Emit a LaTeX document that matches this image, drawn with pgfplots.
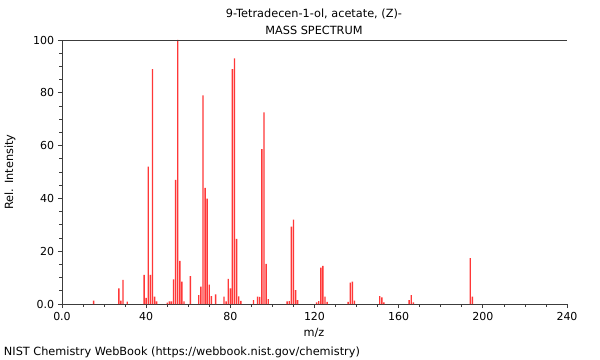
\documentclass[border=0pt]{standalone}
\usepackage{fontspec}
\setmainfont{DejaVu Sans}
\usepackage{pgfplots}
\pgfplotsset{compat=1.18}
\definecolor{specred}{RGB}{255,55,55}
\definecolor{axgray}{RGB}{60,60,60}
\begin{document}
\fontsize{11.3bp}{13bp}\selectfont
\begin{tikzpicture}
\useasboundingbox (-62bp,-56bp) rectangle (538bp,304bp);
\begin{axis}[
  at={(0,0)}, anchor=south west,
  scale only axis, width=505bp, height=264bp,
  xmin=0, xmax=240, ymin=0, ymax=100,
  axis x line*=bottom, axis y line*=left,
  axis line style={-, draw=axgray, line width=0.8bp},
  tick align=outside,
  major tick length=4bp, minor tick length=2.5bp,
  every tick/.style={draw=axgray, line width=0.7bp},
  xtick={0,40,...,240}, xticklabels={0.0,40,80,120,160,200,240},
  ytick={0,20,...,100}, yticklabels={0.0,20,40,60,80,100},
  minor x tick num=3, minor y tick num=3,
  /pgf/number format/assume math mode=true,
  tick label style={font=\fontsize{11bp}{13bp}\selectfont},
  clip=false,
]
\addplot[ybar, bar width=1.4bp, fill=specred, draw=none, mark=none] coordinates {
(15,1.3) (27,5.9) (28,1.3) (29,9.1) (31,0.9)
(39,11) (40,2.3) (41,52) (42,11) (43,89) (44,2.8) (45,1.0)
(50,0.5) (51,1.0) (52,1.0) (53,9.3) (54,47) (55,100) (56,16.3) (57,8.5) (58,1.0)
(61,10.6) (65,3.4) (66,6.6) (67,79) (68,44) (69,39.9) (70,7.3) (71,3.0) (73,3.6)
(77,2.8) (78,1.0) (79,9.5) (80,5.9) (81,89) (82,93) (83,24.7) (84,2.9) (85,1.2)
(91,1.5) (93,2.8) (94,2.7) (95,58.7) (96,72.6) (97,15.2) (98,1.8)
(107,1.0) (108,1.1) (109,29.3) (110,32) (111,5.3) (112,1.5)
(121,0.6) (122,1.1) (123,13.8) (124,14.4) (125,2.8) (126,0.8)
(136,0.8) (137,8.1) (138,8.5) (139,1.3)
(151,3.0) (152,2.5) (153,0.6)
(165,1.5) (166,3.4) (167,0.6)
(194,17.4) (195,2.8)
};
\draw[axgray, line width=0.8bp] (rel axis cs:0,1) -- (rel axis cs:1,1);
\end{axis}
\node at (252bp,290bp) {9-Tetradecen-1-ol, acetate, (Z)-};
\node at (252bp,274bp) {MASS SPECTRUM};
\node[rotate=90] at (-52bp,132bp) {Rel. Intensity};
\node at (252bp,-29bp) {m/z};
\node[anchor=west] at (-62bp,-48bp) {NIST Chemistry WebBook (https://webbook.nist.gov/chemistry)};
\end{tikzpicture}
\end{document}
